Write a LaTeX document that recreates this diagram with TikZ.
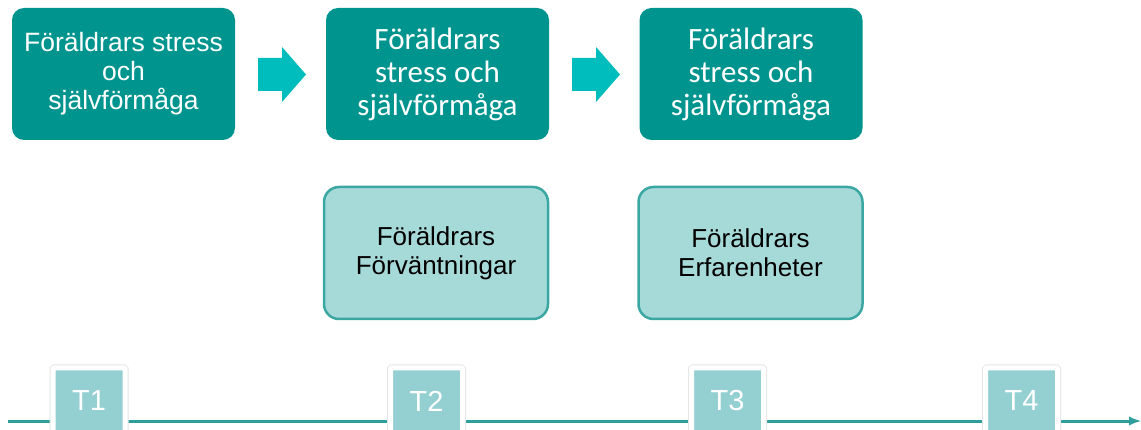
\documentclass[tikz,border=0pt]{standalone}
\usepackage{fontspec}
\setmainfont{Liberation Sans}
\newfontfamily\calibrifont{Carlito}
\usepackage{tikz}
\definecolor{boxteal}{HTML}{00948F}
\definecolor{arrowteal}{HTML}{00BDBD}
\definecolor{lightteal}{HTML}{A6DAD8}
\definecolor{borderteal}{HTML}{3BA7A3}
\definecolor{timeteal}{HTML}{94CFD2}
\definecolor{lineteal}{HTML}{2E9E9A}
\usetikzlibrary{positioning, arrows}

\begin{document}
\begin{tikzpicture}[x=1pt,y=-1pt]
                    \tikzstyle{stressbox} = [rectangle, rounded corners=12pt, fill=boxteal, text=white, align=center, minimum width=223pt, minimum height=132pt, inner sep=0pt]
                    \tikzstyle{parentbox} = [rectangle, rounded corners=15pt, fill=lightteal, draw=borderteal, line width=2.5pt, align=center, minimum width=224pt, minimum height=132pt, inner sep=0pt, font=\fontsize{26}{29}\selectfont]
                    \tikzstyle{blockarrow} = [fill=arrowteal]
                    \tikzstyle{timeline} = [->, >=latex, draw=lineteal, line width=3pt]
                    \tikzstyle{tbox} = [rectangle, rounded corners=1pt, fill=timeteal, draw=white, line width=5pt, preaction={draw=black!10, line width=7pt}, text=white, minimum width=72pt, minimum height=66pt, font=\fontsize{29}{32}\selectfont]

                    \useasboundingbox (0,0) rectangle (1141,430);

                    \node[stressbox, font=\fontsize{26.5}{29}\selectfont](s1) at (123.5,74) {Föräldrars stress\\och\\självförmåga};
                    \node[stressbox, font=\calibrifont\fontsize{31}{33}\selectfont](s2) at (437.5,74) {Föräldrars\\stress och\\självförmåga};
                    \node[stressbox, font=\calibrifont\fontsize{31}{33}\selectfont](s3) at (751,74) {Föräldrars\\stress och\\självförmåga};

                    % block arrows between the top boxes
                    \foreach \ax in {258,572}
                        \fill[blockarrow] (\ax,58) -- ++(24,0) -- ++(0,-11) -- ++(24,27.5) -- ++(-24,27.5) -- ++(0,-11) -- ++(-24,0) -- cycle;

                    \node[parentbox](p1) at (436,253) {Föräldrars\\Förväntningar};
                    \node[parentbox](p2) at (750.5,253) {Föräldrars\\Erfarenheter};

                    \coordinate (tl) at (8,421);
                    \coordinate (tr) at (1141,421);
                    \draw[timeline] (tl) -- (tr);

                    \foreach \x/\t in {89/T1, 426.5/T2, 727.5/T3, 1021.5/T4}
                        \node[tbox](\t) at (\x,401) {\t};
            \end{tikzpicture}
\end{document}
